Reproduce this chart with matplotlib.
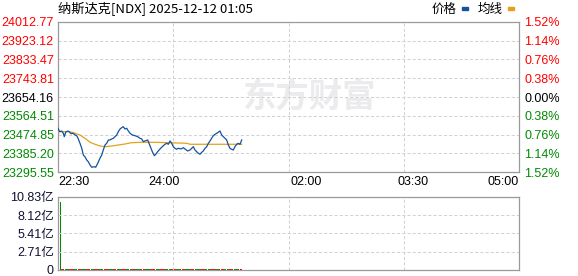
import numpy as np
import matplotlib
matplotlib.use("Agg")
import matplotlib.pyplot as plt
from matplotlib.patches import Rectangle

plt.rcParams['font.family'] = ['Liberation Sans', 'Noto Sans CJK SC', 'DejaVu Sans']

# minutes since 22:30 and index level
t_price = [0, 1.4, 3.1, 4.5, 5.3, 6.5, 8.2, 9.3, 11, 12.9, 14.4, 15.8, 17.2, 18.6, 20.1,
           21.4, 22.8, 24.3, 25.6, 27.1, 28.5, 30.7, 31.9, 33.6, 35.5, 37, 38.3, 39.8,
           41.2, 42.6, 44, 45.4, 46.8, 48.2, 49.7, 51, 52.5, 53.9, 55.2, 56.7, 58.1,
           59.5, 60.9, 62.9, 65.1, 67.4, 69.4, 70.8, 72.2, 73.6, 75.9, 77, 78.7, 79.8,
           81.5, 82.7, 84.3, 86.3, 88.2, 90.5, 92, 93.3, 94.8, 96.2, 97.5, 99, 100.4,
           101.8, 104.1, 106, 107.4, 109.7, 111.7, 113.1, 114.5, 115.9, 117.3, 118.7,
           120.1, 121.6, 122.9, 124.4, 125.8, 127.2, 128.6, 130, 131.4, 132.8, 134.3,
           135.6, 137, 138.5, 139.8, 141.3, 142.7, 144.1, 145.5, 146.9, 148.3, 149.7,
           151.2, 152.5, 154, 155.4]
price = [23505.2, 23489.0, 23492.3, 23481.4, 23465.2, 23486.1, 23492.3, 23489.0, 23479.5,
         23481.4, 23473.3, 23469.9, 23454.2, 23433.7, 23409.9, 23378.0, 23369.9, 23354.2,
         23346.1, 23330.4, 23319.5, 23322.3, 23319.5, 23338.5, 23362.3, 23378.0, 23401.8,
         23425.6, 23433.7, 23449.5, 23449.5, 23454.2, 23457.6, 23465.2, 23473.3, 23489.0,
         23501.8, 23508.0, 23512.8, 23501.8, 23505.2, 23492.3, 23481.4, 23473.3, 23469.9,
         23465.2, 23457.6, 23454.2, 23441.4, 23444.7, 23449.5, 23433.7, 23409.9, 23393.7,
         23374.7, 23381.4, 23393.7, 23406.6, 23417.5, 23429.0, 23433.7, 23429.0, 23444.7,
         23433.7, 23417.5, 23409.9, 23405.2, 23409.9, 23406.6, 23412.8, 23406.6, 23397.1,
         23401.8, 23409.9, 23417.5, 23401.8, 23393.7, 23386.1, 23381.4, 23390.9, 23397.1,
         23409.9, 23417.5, 23433.7, 23444.7, 23457.6, 23469.9, 23476.6, 23481.4, 23486.1,
         23492.3, 23473.3, 23465.2, 23457.6, 23449.5, 23425.6, 23409.9, 23405.2, 23401.8,
         23417.5, 23429.0, 23433.7, 23429.0, 23449.5]

t_avg = [0, 10, 14.4, 18.6, 22.8, 27.1, 31.3, 35.5, 39.8, 45.4, 51, 56.7, 62.3, 70.8,
         82, 109, 111.7, 155.4]
avg = [23489.0, 23489.0, 23481.4, 23473.3, 23457.6, 23438.5, 23429.0, 23420.9, 23417.5,
       23420.9, 23425.6, 23430.4, 23436.6, 23438.5, 23438.5, 23433.7, 23429.0, 23429.0]

# volume (亿) per minute, first bar is the opening minute
vol_first = 10.09
vols = [0.21, 0.18, 0.16, 0.15, 0.17, 0.14, 0.16, 0.15, 0.13, 0.17, 0.16, 0.14, 0.15, 0.18, 0.16, 0.15, 0.14,
        0.16, 0.15, 0.17, 0.14, 0.13, 0.15, 0.16, 0.14, 0.15, 0.13, 0.14, 0.16, 0.15, 0.14, 0.13, 0.15, 0.14,
        0.15, 0.13, 0.14, 0.16, 0.15, 0.14, 0.13, 0.15, 0.14, 0.16, 0.13, 0.14, 0.15, 0.13, 0.14, 0.15, 0.13,
        0.14, 0.13, 0.15, 0.14, 0.12, 0.14, 0.13, 0.15, 0.14, 0.13, 0.12, 0.14, 0.13, 0.14, 0.12, 0.13, 0.14,
        0.13, 0.12, 0.14, 0.13, 0.12, 0.13, 0.14, 0.12, 0.13, 0.12, 0.14, 0.13, 0.12, 0.13, 0.12, 0.14, 0.13,
        0.12, 0.13, 0.12, 0.14, 0.13, 0.12, 0.13, 0.12, 0.13, 0.14, 0.12, 0.13, 0.12, 0.13, 0.12, 0.13, 0.14,
        0.13, 0.12, 0.13, 0.12, 0.14, 0.13, 0.12, 0.13, 0.14, 0.12, 0.13, 0.12, 0.13, 0.14, 0.13, 0.12, 0.13,
        0.14, 0.13, 0.15, 0.14, 0.13, 0.15, 0.14, 0.13, 0.14, 0.15, 0.13, 0.14, 0.15, 0.14, 0.13, 0.14, 0.15,
        0.14, 0.15, 0.13, 0.14, 0.15, 0.16, 0.14, 0.15, 0.14, 0.16, 0.15, 0.14, 0.15, 0.16, 0.15, 0.14, 0.16]
vol_dir = ("rrrggggrrrrgggrrr" "ggggrrrrgggrrrrgg" "ggrrrrggggrrrgggg"
           "rrrrggggrrrrggggr" "rrrggggrrrrrggggr" "rrrgggggrrrrggggr"
           "rrrggggrrrrgggggr" "rrrggggrrrrggggrr" "rrggggrrrrggggrrr")

prev_close = 23654.16
y_ticks = [24012.77, 23923.12, 23833.47, 23743.81, 23654.16, 23564.51, 23474.85, 23385.20, 23295.55]
vol_ticks = [0, 2.71, 5.41, 8.12, 10.83]
vol_labels = ["0", "2.71亿", "5.41亿", "8.12亿", "10.83亿"]
x_ticks = [0, 90, 210, 300, 390]
x_labels = ["22:30", "24:00", "02:00", "03:30", "05:00"]

RED = "#ff0000"
GREEN = "#008a00"
BLUE = "#1452a0"
GOLD = "#e3a21a"
GRID = "#d2d2d2"
EDGE = "#9a9a9a"

fig = plt.figure(figsize=(5.78, 2.76), dpi=100)
ax = fig.add_axes([58 / 578, (276 - 172.3) / 276, 461 / 578, 150.6 / 276])
axv = fig.add_axes([58 / 578, 6 / 276, 461 / 578, 73.3 / 276])


def tick_color(v):
    if abs(v - prev_close) < 0.01:
        return "black"
    return RED if v > prev_close else GREEN


# watermark
ax.text(0.545, 0.49, "东方财富", transform=ax.transAxes, fontsize=24, fontweight="bold",
        family=["Noto Sans CJK SC"], color="#ebebee", ha="center", va="center", zorder=0)

ax.plot(t_avg, avg, color=GOLD, lw=0.9, zorder=3)
ax.plot(t_price, price, color=BLUE, lw=0.9, zorder=4)

for a in (ax, axv):
    a.set_xlim(0, 390)
    a.set_xticks([97.5, 195, 292.5], minor=True)
    a.grid(which="minor", axis="x", color=GRID, lw=0.75, ls=(0, (3, 2)))
    a.grid(which="major", axis="y", color=GRID, lw=0.75, ls=(0, (3, 2)))
    for s in a.spines.values():
        s.set_color(EDGE)
        s.set_linewidth(0.9)
    a.tick_params(which="both", length=0)

ax.set_ylim(y_ticks[-1], y_ticks[0])
ax.set_yticks(y_ticks)
ax.set_yticklabels([f"{v:.2f}" for v in y_ticks], fontsize=9)
for lab, v in zip(ax.get_yticklabels(), y_ticks):
    lab.set_color(tick_color(v))
ax.tick_params(axis="y", pad=3)

ax.set_xticks(x_ticks)
ax.set_xticklabels(x_labels, fontsize=9)
ax.tick_params(axis="x", pad=3)
xl = ax.get_xticklabels()
xl[0].set_ha("left")
xl[-1].set_ha("right")

axr = ax.twinx()
axr.set_ylim(ax.get_ylim())
axr.set_yticks(y_ticks)
axr.set_yticklabels([f"{abs(v - prev_close) / prev_close * 100:.2f}%" for v in y_ticks], fontsize=9)
for lab, v in zip(axr.get_yticklabels(), y_ticks):
    lab.set_color(tick_color(v))
axr.tick_params(length=0, pad=4)
for s in axr.spines.values():
    s.set_visible(False)

# volume
vol_t = np.arange(3, 3 + len(vols))
axv.bar([2], [vol_first], width=0.9, color=GREEN, lw=0)
axv.bar(vol_t, vols, width=0.9, color=[RED if c == "r" else GREEN for c in vol_dir], lw=0)
axv.set_ylim(0, vol_ticks[-1])
axv.set_yticks(vol_ticks)
axv.set_yticklabels(vol_labels, fontsize=9, color="#111133")
axv.tick_params(axis="y", pad=3)
axv.set_xticks([])

# title and legend
fig.text(58 / 578, 1 - 9 / 276, "纳斯达克[NDX] 2025-12-12 01:05", fontsize=9.5,
         family=["Noto Sans CJK SC", "DejaVu Sans"], va="center", ha="left")
fig.text(432 / 578, 1 - 9 / 276, "价格", fontsize=9, family=["Noto Sans CJK SC"],
         va="center", ha="left")
fig.patches.append(Rectangle((462 / 578, 1 - 10 / 276), 6 / 578, 3 / 276,
                             transform=fig.transFigure, color=BLUE))
fig.text(478 / 578, 1 - 9 / 276, "均线", fontsize=9, family=["Noto Sans CJK SC"],
         va="center", ha="left")
fig.patches.append(Rectangle((508 / 578, 1 - 10 / 276), 6 / 578, 3 / 276,
                             transform=fig.transFigure, color=GOLD))

fig.savefig("out.png", dpi=100)
